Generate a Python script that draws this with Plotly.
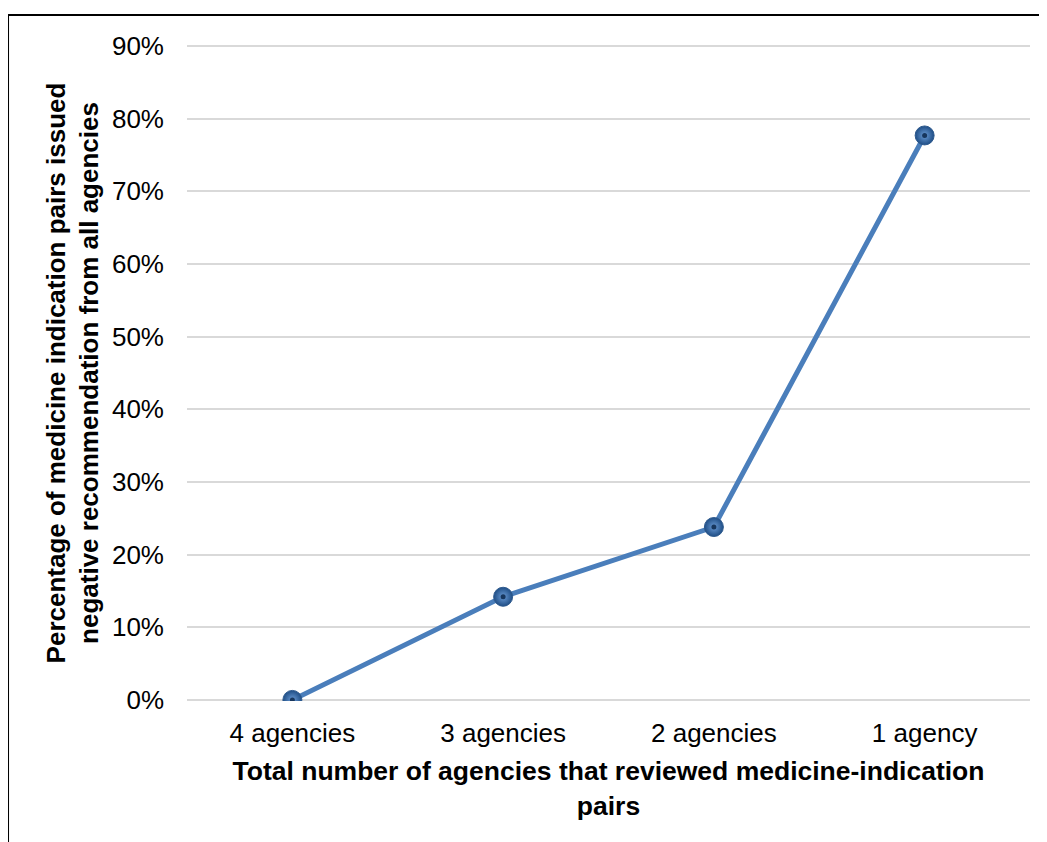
import plotly.graph_objects as go

# agencies reviewing each medicine-indication pair
categories = ["4 agencies", "3 agencies", "2 agencies", "1 agency"]
# share of pairs with a negative recommendation from all agencies
negative_share = [0.0, 0.142, 0.238, 0.777]
y_ticks = [0, 0.1, 0.2, 0.3, 0.4, 0.5, 0.6, 0.7, 0.8, 0.9]

FONT = "Liberation Sans, Arial, sans-serif"
LINE_BLUE = "#4A7EBB"

fig = go.Figure()

fig.add_trace(go.Scatter(
    x=categories,
    y=negative_share,
    mode="lines+markers",
    line=dict(color=LINE_BLUE, width=5),
    marker=dict(
        size=19,
        color="#1F4E86",
        gradient=dict(type="radial", color="#6A9BD6"),
        line=dict(color="#2E5A8E", width=1),
    ),
    hoverinfo="skip",
))

# small dark centre dot of each marker
fig.add_trace(go.Scatter(
    x=categories,
    y=negative_share,
    mode="markers",
    marker=dict(size=5, color="#17365D"),
    hoverinfo="skip",
))

# the page body adds an 8px margin, so the figure is sized 8px smaller
fig.update_layout(
    width=1039,
    height=834,
    showlegend=False,
    plot_bgcolor="white",
    paper_bgcolor="white",
    margin=dict(l=179, r=17, t=37, b=141),
    font=dict(family=FONT, size=26, color="#000000"),
    xaxis=dict(
        type="category",
        range=[-0.5, 3.5],
        showgrid=False,
        showline=False,
        zeroline=False,
        ticks="",
        tickfont=dict(size=26),
        ticklabelstandoff=14,
        title=dict(
            text="<b>Total number of agencies that reviewed medicine-indication<br>pairs</b>",
            font=dict(size=26.5),
            standoff=14,
        ),
    ),
    yaxis=dict(
        range=[-0.0015, 0.9015],
        tickvals=y_ticks,
        tickformat=".0%",
        showgrid=True,
        gridcolor="#d9d9d9",
        gridwidth=1.5,
        zeroline=False,
        showline=False,
        ticks="",
        tickfont=dict(size=26),
        ticklabelstandoff=22,
        title=dict(
            text="<b>Percentage of medicine indication pairs issued<br>negative recommendation from all agencies</b>",
            font=dict(size=26),
            standoff=5,
        ),
    ),
    shapes=[
        dict(type="line", xref="paper", yref="paper",
             x0=-0.2123, x1=1.03, y0=1.0457, y1=1.0457,
             line=dict(color="black", width=2)),
        dict(type="line", xref="paper", yref="paper",
             x0=-0.2123, x1=-0.2123, y0=1.0457, y1=-0.22,
             line=dict(color="black", width=2)),
    ],
)

fig.write_html("out.html")
